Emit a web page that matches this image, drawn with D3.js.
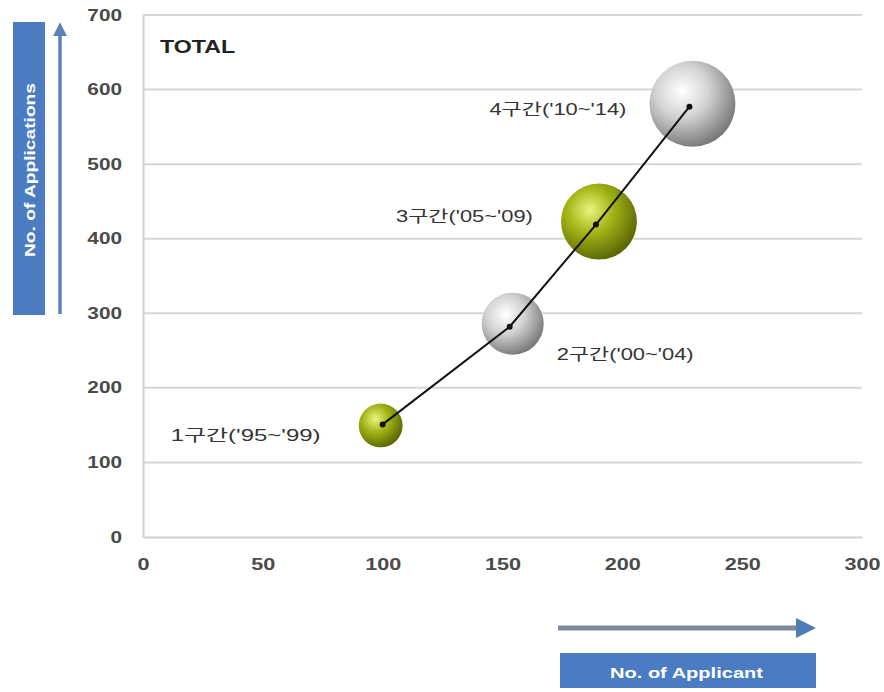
<!DOCTYPE html>
<html>
<head>
<meta charset="utf-8">
<script src="https://cdn.jsdelivr.net/npm/d3@7"></script>
<style>
  body { margin: 0; background: #fff; }
  svg text { font-family: "Liberation Sans", "Noto Sans CJK KR", sans-serif; }
</style>
</head>
<body>
<div id="graph"></div>
<script>
// Chart values
const periods = ["1구간('95~'99)", "2구간('00~'04)", "3구간('05~'09)", "4구간('10~'14)"];
const applicants = [100, 153, 189, 228];
const applications = [151, 282, 419, 577];
const bubbleSize = [26, 52, 78, 100];
const xTicks = [0, 50, 100, 150, 200, 250, 300];
const yTicks = [0, 100, 200, 300, 400, 500, 600, 700];

const width = 884, height = 692;
const margin = { left: 143, right: 22, top: 15, bottom: 155 };

const svg = d3.select('#graph')
  .append('svg')
  .attr('width', width)
  .attr('height', height);

const defs = svg.append('defs');

// Sphere gradients: olive green and silver
function sphere(id, light, mid, dark) {
  const g = defs.append('radialGradient')
    .attr('id', id)
    .attr('cx', '38%').attr('cy', '35%').attr('r', '68%');
  g.append('stop').attr('offset', '0%').attr('stop-color', light);
  g.append('stop').attr('offset', '45%').attr('stop-color', mid);
  g.append('stop').attr('offset', '100%').attr('stop-color', dark);
}
sphere('green', '#e9f57e', '#a2b416', '#5a6505');
sphere('silver', '#ffffff', '#d3d3d3', '#777777');

const arrowBlue = '#4b7cc1';
function marker(id, color) {
  defs.append('marker')
    .attr('id', id)
    .attr('viewBox', '0 0 10 10')
    .attr('refX', 3).attr('refY', 5)
    .attr('markerWidth', 4).attr('markerHeight', 4)
    .attr('orient', 'auto')
    .append('path')
    .attr('d', 'M0,0 L10,5 L0,10 z')
    .attr('fill', color);
}
marker('headUp', '#5b7fb8');
marker('headRight', '#4f7bb5');

const x = d3.scaleLinear()
  .domain([0, 300])
  .range([margin.left, width - margin.right]);
const y = d3.scaleLinear()
  .domain([0, 700])
  .range([height - margin.bottom, margin.top]);
const r = d3.scaleSqrt()
  .domain([0, d3.max(bubbleSize)])
  .range([0, 43]);

// Horizontal gridlines
svg.append('g')
  .selectAll('line')
  .data(yTicks.filter(d => d > 0))
  .join('line')
  .attr('x1', x(0)).attr('x2', x(300))
  .attr('y1', d => y(d)).attr('y2', d => y(d))
  .attr('stroke', '#d6d6d6')
  .attr('stroke-width', 2);

// Axes (the source picture is stretched sideways, so stretch the labels)
const xAxis = svg.append('g')
  .attr('transform', `translate(0,${y(0)})`)
  .call(d3.axisBottom(x).tickValues(xTicks).tickSize(0).tickPadding(22));
const yAxis = svg.append('g')
  .attr('transform', `translate(${x(0)},0)`)
  .call(d3.axisLeft(y).tickValues(yTicks).tickSize(0).tickPadding(0));

[xAxis, yAxis].forEach(a => {
  a.select('.domain').attr('stroke', '#cfcfcf').attr('stroke-width', 2);
  a.selectAll('text')
    .attr('fill', '#4a4a4a')
    .style('font-size', '16px')
    .style('font-weight', 'bold');
});
xAxis.selectAll('text').attr('transform', 'scale(1.35,1)');
yAxis.selectAll('text')
  .attr('x', -21 / 1.3)
  .attr('transform', 'scale(1.3,1)');

svg.append('text')
  .attr('transform', 'translate(160,53) scale(1.22,1)')
  .attr('fill', '#222')
  .style('font-size', '19px')
  .style('font-weight', 'bold')
  .text('TOTAL');

const data = periods.map((p, i) => ({
  label: p, x: applicants[i], y: applications[i], s: bubbleSize[i]
}));

// Bubbles
svg.append('g')
  .selectAll('circle')
  .data(data)
  .join('circle')
  .attr('cx', (d, i) => x(d.x) + (i === 0 ? -2 : 3))
  .attr('cy', (d, i) => y(d.y) + (i === 0 ? 1 : -3))
  .attr('r', d => r(d.s))
  .attr('fill', (d, i) => i % 2 === 0 ? 'url(#green)' : 'url(#silver)');

// Trend line through the periods
svg.append('path')
  .datum(data)
  .attr('fill', 'none')
  .attr('stroke', '#111')
  .attr('stroke-width', 2)
  .attr('d', d3.line().x(d => x(d.x)).y(d => y(d.y)));

svg.append('g')
  .selectAll('circle')
  .data(data)
  .join('circle')
  .attr('cx', d => x(d.x))
  .attr('cy', d => y(d.y))
  .attr('r', 3)
  .attr('fill', '#111');

// Period labels
const labelPos = [
  { dx: -212, dy: 17, sx: 1.5 },
  { dx: 47, dy: 33, sx: 1.37 },
  { dx: -200, dy: -3, sx: 1.37 },
  { dx: -200, dy: 8, sx: 1.37 }
];
svg.append('g')
  .selectAll('text')
  .data(data)
  .join('text')
  .attr('transform', (d, i) =>
    `translate(${x(d.x) + labelPos[i].dx},${y(d.y) + labelPos[i].dy}) scale(${labelPos[i].sx},1)`)
  .attr('fill', '#333')
  .style('font-size', '16px')
  .text(d => d.label);

// Left axis title box and arrow
svg.append('rect')
  .attr('x', 13).attr('y', 22)
  .attr('width', 32).attr('height', 293)
  .attr('fill', arrowBlue);
svg.append('text')
  .attr('transform', 'translate(35,170) rotate(-90)')
  .attr('text-anchor', 'middle')
  .attr('textLength', 174)
  .attr('lengthAdjust', 'spacingAndGlyphs')
  .attr('fill', '#fff')
  .style('font-size', '15px')
  .style('font-weight', 'bold')
  .text('No. of Applications');
svg.append('line')
  .attr('x1', 60).attr('x2', 60)
  .attr('y1', 314).attr('y2', 32)
  .attr('stroke', '#5b7fb8')
  .attr('stroke-width', 3.5)
  .attr('marker-end', 'url(#headUp)');

// Bottom axis title box and arrow
svg.append('line')
  .attr('x1', 558).attr('x2', 802)
  .attr('y1', 628).attr('y2', 628)
  .attr('stroke', '#7d8a9b')
  .attr('stroke-width', 5)
  .attr('marker-end', 'url(#headRight)');
svg.append('rect')
  .attr('x', 560).attr('y', 653)
  .attr('width', 256).attr('height', 35)
  .attr('fill', arrowBlue);
svg.append('text')
  .attr('x', 610).attr('y', 678)
  .attr('textLength', 153)
  .attr('lengthAdjust', 'spacingAndGlyphs')
  .attr('fill', '#fff')
  .style('font-size', '14px')
  .style('font-weight', 'bold')
  .text('No. of Applicant');
</script>
</body>
</html>
